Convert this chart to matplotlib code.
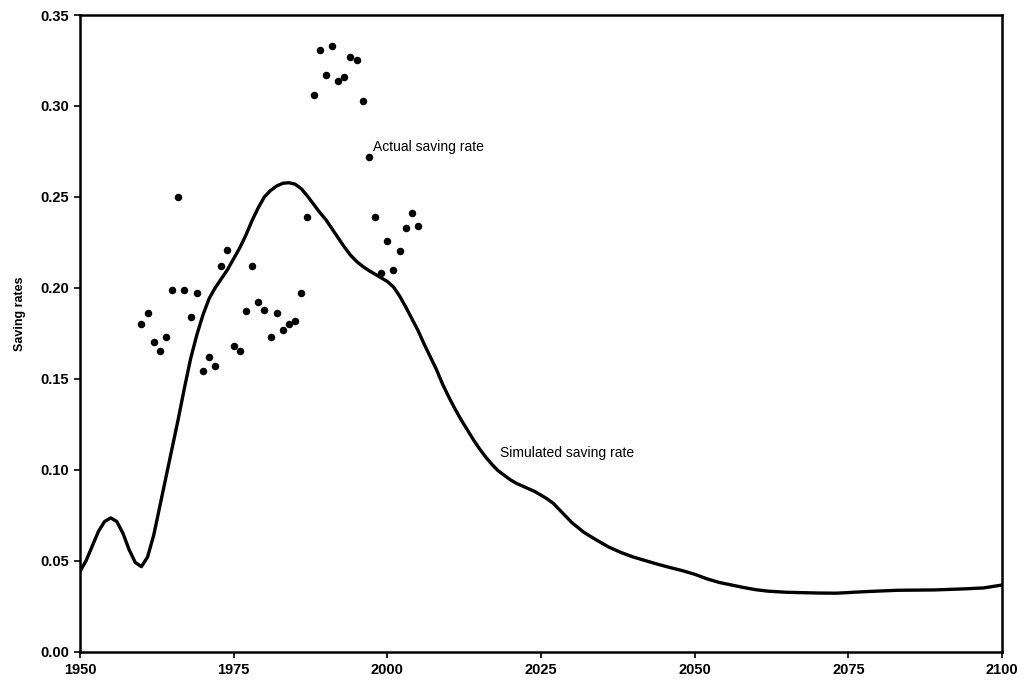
import numpy as np
import matplotlib
matplotlib.use('Agg')
import matplotlib.pyplot as plt

plt.rcParams['font.family'] = ['Liberation Sans', 'DejaVu Sans']

# 实际储蓄率（散点）
actual_years = list(range(1960, 2006))
actual_rates = [0.180, 0.186, 0.170, 0.165, 0.173, 0.199, 0.250, 0.199, 0.184, 0.197,
                0.154, 0.162, 0.157, 0.212, 0.221, 0.168, 0.165, 0.187, 0.212, 0.192,
                0.188, 0.173, 0.186, 0.177, 0.180, 0.182, 0.197, 0.239, 0.306, 0.331,
                0.317, 0.333, 0.314, 0.316, 0.327, 0.325, 0.303, 0.272, 0.239, 0.208,
                0.226, 0.210, 0.220, 0.233, 0.241, 0.234]

# 模拟储蓄率（曲线）
sim_years = [1950, 1951, 1952, 1953, 1954, 1955, 1956, 1957, 1958, 1959,
             1960, 1961, 1962, 1963, 1964, 1965, 1966, 1967, 1968, 1969,
             1970, 1971, 1972, 1973, 1974, 1975, 1976, 1977, 1978, 1979,
             1980, 1981, 1982, 1983, 1984, 1985, 1986, 1987, 1988, 1989,
             1990, 1991, 1992, 1993, 1994, 1995, 1996, 1997, 1998, 1999,
             2000, 2001, 2002, 2003, 2004, 2005, 2006, 2007, 2008, 2009,
             2010, 2011, 2012, 2013, 2014, 2015, 2016, 2017, 2018, 2019,
             2020, 2021, 2022, 2023, 2024, 2025, 2026, 2027, 2028, 2029,
             2030, 2032, 2034, 2036, 2038, 2040, 2042, 2044, 2046, 2048,
             2050, 2052, 2054, 2056, 2058, 2060, 2062, 2065, 2070, 2073,
             2078, 2083, 2089, 2094, 2097, 2100]
sim_rates = [0.044, 0.050, 0.058, 0.066, 0.0715, 0.0735, 0.0715, 0.065, 0.056, 0.049,
             0.0467, 0.052, 0.064, 0.080, 0.096, 0.112, 0.128, 0.145, 0.161, 0.174,
             0.185, 0.194, 0.200, 0.205, 0.210, 0.216, 0.222, 0.229, 0.237, 0.244,
             0.250, 0.2535, 0.256, 0.2575, 0.2578, 0.257, 0.2545, 0.2505, 0.246, 0.2415,
             0.2375, 0.2325, 0.2275, 0.2225, 0.218, 0.2145, 0.2118, 0.2095, 0.2075, 0.2055,
             0.2035, 0.2005, 0.1955, 0.1895, 0.183, 0.1765, 0.169, 0.162, 0.155, 0.147,
             0.140, 0.1335, 0.1275, 0.122, 0.1165, 0.1115, 0.107, 0.103, 0.0995, 0.097,
             0.0945, 0.0925, 0.091, 0.0895, 0.088, 0.086, 0.084, 0.0815, 0.078, 0.0745,
             0.071, 0.0655, 0.0614, 0.0575, 0.0545, 0.052, 0.050, 0.048, 0.0462, 0.0445,
             0.0425, 0.040, 0.038, 0.0366, 0.0352, 0.034, 0.0332, 0.0326, 0.0322, 0.0321,
             0.033, 0.0337, 0.0339, 0.0345, 0.035, 0.0366]

x_ticks = [1950, 1975, 2000, 2025, 2050, 2075, 2100]
y_ticks = [0.00, 0.05, 0.10, 0.15, 0.20, 0.25, 0.30, 0.35]

fig = plt.figure(figsize=(10.25, 6.83), dpi=100)
ax = fig.add_axes([0.078, 0.046, 0.8996, 0.932])

ax.plot(sim_years, sim_rates, color='black', linewidth=2.4,
        solid_capstyle='round', solid_joinstyle='round')
ax.plot(actual_years, actual_rates, 'o', color='black', markersize=4.4)

ax.text(1997.7, 0.2773, 'Actual saving rate', fontsize=10, va='center', ha='left')
ax.text(2018.3, 0.109, 'Simulated saving rate', fontsize=10, va='center', ha='left')

ax.set_xlim(1950, 2100)
ax.set_ylim(0, 0.35)
ax.set_xticks(x_ticks)
ax.set_xticklabels([str(t) for t in x_ticks], fontsize=10.5, fontweight='bold')
ax.set_yticks(y_ticks)
ax.set_yticklabels([f'{t:.2f}' for t in y_ticks], fontsize=10.5, fontweight='bold')
ax.tick_params(direction='out', length=4, width=1.2, pad=4)

ax.set_ylabel('Saving rates', fontsize=9, fontweight='bold')
ax.yaxis.set_label_coords(-0.059, 0.53)

for s in ax.spines.values():
    s.set_linewidth(1.8)

plt.savefig('out.png', dpi=100)
plt.close()
